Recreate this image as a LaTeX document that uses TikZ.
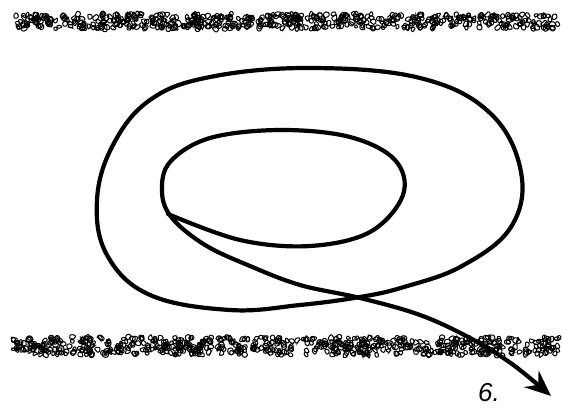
\documentclass[tikz,border=0pt]{standalone}
\usepackage{fontspec}
\setsansfont{Liberation Sans}
\usetikzlibrary{arrows.meta}
\begin{document}
\begin{tikzpicture}[x=1pt,y=-1pt,
  curve/.style={line width=4.2pt,line cap=round,line join=round},
  blob/.style={line width=1.0pt,rounded corners=0.8pt},
  lbl/.style={font=\sffamily\itshape\fontsize{26}{28}\selectfont}]
\useasboundingbox (0,0) rectangle (563,412);
\pgfmathsetseed{11}
\newcommand\myblob[2]{%
  \pgfmathsetmacro\ra{1.3+2.6*rnd}%
  \pgfmathsetmacro\rb{1.3+2.6*rnd}%
  \pgfmathsetmacro\rc{1.3+2.6*rnd}%
  \pgfmathsetmacro\rd{1.3+2.6*rnd}%
  \pgfmathsetmacro\re{1.3+2.6*rnd}%
  \pgfmathsetmacro\rf{1.3+2.6*rnd}%
  \pgfmathsetmacro\ro{60*rnd}%
  \draw[blob] (#1,#2) +(\ro:\ra pt) -- +(\ro+60:\rb pt) -- +(\ro+120:\rc pt)
    -- +(\ro+180:\rd pt) -- +(\ro+240:\re pt) -- +(\ro+300:\rf pt) -- cycle;}
% top band
\foreach \i in {1,...,560}{
  \pgfmathsetmacro\bx{16+542*rnd}
  \pgfmathsetmacro\by{14+15*rnd}
  \myblob{\bx}{\by}
}
% bottom band
\foreach \i in {1,...,600}{
  \pgfmathsetmacro\bx{12+548*rnd}
  \pgfmathsetmacro\by{337+18*rnd}
  \myblob{\bx}{\by}
}
% outer loop
\draw[curve] plot[smooth cycle,tension=0.65] coordinates {
  (150,100) (210,77) (310,68) (420,78) (490,113) (521,172) (511,227)
  (462,266) (404,287) (360,297) (300,305) (230,310) (150,295) (107,255)
  (97,200) (113,145)};
% inner loop and tail
\coordinate (tip) at (551,396);
\draw[curve,-{Stealth[length=26pt,width=22pt,inset=9pt]}] plot[smooth,tension=0.6] coordinates {
  (168,214) (240,240) (310,246) (370,232) (403,195) (395,160) (350,137)
  (280,130) (210,138) (170,162) (162,192) (172,218) (205,245) (250,266)
  (300,285) (360,298) (420,315) (470,338) (512,364) (tip)};
\node[lbl] (six) at (489,393) {6.};
\end{tikzpicture}
\end{document}
